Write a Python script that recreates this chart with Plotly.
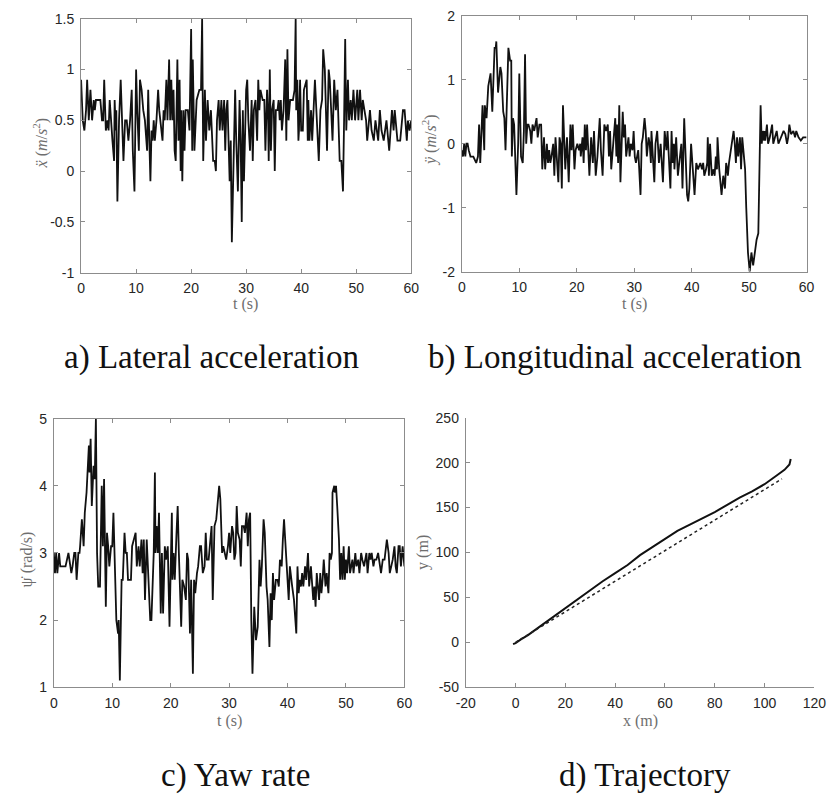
import plotly.graph_objects as go

# ---------------- data ----------------
lat_acc = [(0,0.9),(0.3,0.5),(0.6,0.4),(0.9,0.6),(1.1,0.9),(1.4,0.5),(1.7,0.8),(2.0,0.5),(2.3,0.7),(2.5,0.6),(2.7,0.7),(3.5,0.7),(3.8,0.5),(4.0,0.5),(4.2,0.9),(4.5,0.4),(4.8,0.5),(5.0,0.4),(5.2,0.7),(5.4,0.5),(5.7,0.3),(6.0,0.1),(6.1,0.7),(6.3,0.4),(6.4,0.6),(6.6,-0.3),(6.9,0.5),(7.2,0.9),(7.4,0.5),(7.7,0.1),(8.0,0.5),(8.3,0.5),(8.6,0.3),(8.9,0.5),(9.2,0.8),(9.4,0.2),(9.7,-0.2),(10.0,1.0),(10.2,0.6),(10.5,0.2),(10.7,0.9),(11.0,0.8),(11.3,0.6),(11.6,0.5),(12.0,0.2),(12.2,0.8),(12.4,0.3),(12.6,-0.1),(12.8,0.4),(13.0,0.3),(13.2,0.5),(13.4,0.3),(13.7,0.5),(14.0,0.8),(14.2,0.6),(14.4,0.5),(14.6,0.4),(14.8,0.3),(15.0,0.6),(15.2,0.5),(15.5,0.9),(15.7,0.5),(16.0,1.1),(16.2,0.5),(16.4,0.9),(16.6,0.5),(16.8,0.8),(17.0,0.2),(17.2,0.1),(17.5,1.1),(17.7,0.3),(17.9,0.9),(18.1,0.0),(18.2,0.6),(18.4,-0.1),(18.6,0.6),(18.8,0.2),(19.0,0.6),(19.4,0.6),(19.7,0.4),(20.0,1.4),(20.2,0.2),(20.3,1.1),(20.6,0.2),(21.0,0.7),(21.5,0.8),(21.8,0.8),(22.0,1.5),(22.2,0.1),(22.5,0.8),(22.7,0.3),(23.0,0.7),(23.3,0.4),(23.6,0.6),(24.0,0.1),(24.3,0.1),(24.5,0.0),(24.7,0.5),(25.0,0.7),(25.2,0.4),(25.5,0.7),(25.7,0.4),(26.0,0.7),(26.2,0.2),(26.4,0.6),(26.6,0.7),(27.0,-0.1),(27.2,0.3),(27.4,-0.7),(27.7,0.2),(28.0,0.8),(28.2,0.3),(28.5,-0.2),(28.8,0.7),(29.0,0.3),(29.2,-0.5),(29.4,0.6),(29.6,-0.1),(30.0,0.8),(30.2,0.9),(30.4,0.5),(30.7,0.2),(31.0,0.7),(31.2,0.1),(31.4,0.6),(31.7,0.7),(32.0,0.3),(32.2,0.9),(32.4,0.6),(32.6,0.8),(33.0,0.7),(33.3,0.7),(33.5,0.2),(33.8,0.8),(34.0,0.5),(34.1,0.1),(34.3,1.0),(34.5,0.2),(34.7,0.6),(35.0,0.7),(35.2,0.0),(35.4,0.6),(35.7,0.6),(35.9,0.7),(36.1,0.5),(36.3,0.7),(36.5,0.4),(36.8,0.6),(37.1,1.1),(37.3,0.3),(37.5,1.2),(37.7,0.5),(38.0,0.7),(38.5,0.7),(38.8,0.8),(39.0,1.5),(39.1,0.6),(39.3,0.9),(39.5,0.3),(39.6,0.4),(39.8,0.9),(40.0,0.4),(40.3,0.4),(40.5,0.8),(41.0,0.9),(41.2,0.3),(41.3,0.7),(41.5,0.3),(41.8,0.6),(42.0,0.3),(42.5,0.9),(42.8,0.5),(43.2,0.1),(43.5,0.6),(43.8,0.7),(44.0,1.2),(44.3,1.0),(44.7,0.2),(45.0,1.0),(45.2,0.9),(45.4,0.6),(45.7,0.3),(46.0,0.9),(46.3,0.6),(46.6,0.8),(47.0,0.1),(47.3,0.1),(47.6,-0.2),(47.8,0.5),(48.0,1.3),(48.2,0.4),(48.5,0.9),(48.7,0.5),(49.0,0.7),(49.2,0.5),(49.5,0.8),(49.8,0.5),(50.2,0.8),(50.4,0.5),(50.7,0.8),(51.0,0.5),(51.2,0.7),(51.5,0.6),(51.8,0.5),(52.0,0.3),(52.5,0.6),(52.8,0.4),(53.2,0.3),(53.5,0.5),(54.0,0.3),(54.3,0.6),(54.6,0.4),(55.0,0.3),(55.5,0.5),(56.0,0.2),(56.5,0.6),(56.8,0.4),(57.0,0.6),(57.5,0.3),(58.0,0.3),(58.5,0.6),(58.8,0.6),(59.2,0.3),(59.4,0.5),(59.7,0.4),(60.0,0.5)]

lon_acc = [(0,-0.1),(0.2,-0.2),(0.4,0.0),(0.6,-0.2),(0.8,0.0),(1.0,0.0),(1.2,-0.1),(1.5,-0.2),(2.0,-0.2),(2.5,-0.3),(2.8,-0.2),(3.0,0.3),(3.2,-0.3),(3.6,0.6),(3.9,-0.1),(4.0,0.6),(4.3,0.4),(4.6,0.9),(5.0,1.1),(5.3,0.5),(5.7,1.5),(5.9,1.5),(6.0,1.6),(6.3,0.8),(6.7,1.2),(6.9,1.1),(7.2,0.5),(7.4,0.4),(7.6,-0.1),(7.9,1.0),(8.1,1.5),(8.4,1.3),(8.6,1.3),(8.7,-0.2),(8.9,0.4),(9.1,0.3),(9.5,-0.8),(9.8,0.0),(10.0,1.1),(10.3,-0.2),(10.6,-0.3),(10.8,0.2),(11.0,1.4),(11.2,0.0),(11.4,0.3),(11.6,0.3),(11.9,0.2),(12.1,0.0),(12.3,0.3),(12.6,0.2),(12.8,0.3),(13.0,0.4),(13.2,0.1),(13.5,0.3),(13.8,0.3),(14.0,-0.4),(14.3,0.1),(14.5,-0.4),(14.8,0.0),(15.0,-0.3),(15.2,-0.1),(15.4,-0.3),(15.6,-0.2),(15.9,0.0),(16.1,-0.5),(16.3,0.1),(16.8,-0.6),(17.0,0.1),(17.2,0.0),(17.4,-0.7),(17.6,0.6),(18.0,-0.4),(18.3,0.1),(18.6,-0.6),(18.9,0.3),(19.1,-0.1),(19.3,0.3),(19.6,-0.4),(19.8,-0.1),(20.1,0.0),(20.4,-0.1),(20.6,0.0),(20.7,-0.2),(21.0,0.1),(21.2,-0.3),(21.4,0.3),(21.6,-0.1),(21.8,0.3),(22.2,-0.5),(22.5,0.1),(22.8,-0.3),(23.0,0.2),(23.3,-0.5),(23.6,-0.2),(24.0,0.4),(24.2,-0.1),(24.5,-0.5),(24.8,0.3),(25.1,0.2),(25.4,0.3),(25.6,-0.2),(25.8,0.2),(26.0,-0.4),(26.3,0.0),(26.7,0.4),(26.9,-0.2),(27.0,0.3),(27.2,-0.3),(27.4,0.6),(27.6,-0.6),(28.0,0.5),(28.2,0.1),(28.4,0.3),(28.6,-0.2),(29.0,0.1),(29.2,-0.2),(29.4,0.0),(29.7,-0.1),(29.9,0.2),(30.1,-0.2),(30.3,-0.3),(30.7,-0.1),(31.1,-0.8),(31.3,0.0),(31.5,0.1),(31.8,0.4),(32.0,0.2),(32.2,-0.2),(32.5,0.1),(32.7,0.0),(32.9,-0.3),(33.0,0.2),(33.3,-0.2),(33.5,-0.6),(33.7,0.0),(33.9,0.1),(34.0,0.2),(34.3,-0.3),(34.6,0.0),(35.0,-0.6),(35.3,0.2),(35.6,-0.1),(35.8,0.2),(36.3,-0.7),(36.5,0.2),(36.7,-0.3),(36.9,0.0),(37.0,-0.4),(37.3,0.1),(37.6,-0.5),(38.0,-0.2),(38.2,0.0),(38.4,-0.7),(38.7,0.4),(39.2,-0.8),(39.4,-0.9),(39.6,-0.7),(39.9,0.0),(40.2,-0.4),(40.5,-0.8),(40.8,-0.3),(41.1,-0.4),(41.5,-0.3),(41.8,-0.4),(42.0,-0.3),(42.2,-0.5),(42.5,-0.4),(42.7,-0.3),(42.8,0.1),(43.0,-0.5),(43.2,0.0),(43.5,-0.5),(43.8,-0.4),(44.0,-0.5),(44.2,-0.2),(44.4,-0.4),(44.5,0.1),(44.8,-0.4),(45.2,-0.8),(45.5,-0.5),(45.8,-0.7),(46.0,-0.3),(46.2,-0.4),(46.3,-0.5),(46.5,-0.3),(47.0,0.0),(47.3,0.2),(47.5,0.0),(47.7,-0.3),(47.9,0.1),(48.1,-0.2),(48.4,0.1),(48.6,-0.4),(48.8,0.1),(49.1,-0.2),(49.3,-0.4),(49.5,-1.0),(49.8,-1.7),(50.1,-2.0),(50.4,-1.7),(50.7,-1.9),(51.0,-1.7),(51.1,-1.6),(51.3,-1.5),(51.6,-1.4),(51.8,-0.5),(52.0,0.6),(52.2,0.0),(52.4,0.2),(52.6,0.05),(52.7,0.2),(52.8,0.05),(53.1,0.3),(53.3,0.0),(53.6,0.1),(54.0,0.3),(54.2,0.0),(54.5,0.1),(54.8,0.2),(55.1,0.0),(55.5,0.1),(56.0,0.2),(56.3,0.15),(56.6,0.0),(56.8,0.1),(57.0,0.3),(57.3,0.15),(57.7,0.2),(58.0,0.1),(58.2,0.2),(58.6,0.1),(59.0,0.05),(59.4,0.1),(60.0,0.1)]

yaw_rate = [(0,3.0),(0.2,2.7),(0.4,3.0),(0.6,2.7),(0.9,3.0),(1.1,2.8),(1.5,2.8),(1.8,2.8),(2.0,2.8),(2.5,3.0),(2.8,2.8),(3.0,2.7),(3.2,2.8),(3.5,3.0),(3.7,3.0),(3.9,2.6),(4.2,3.0),(4.4,3.0),(4.5,3.1),(4.8,3.5),(5.1,3.1),(5.3,3.6),(5.6,3.9),(6.0,4.6),(6.1,4.2),(6.3,4.7),(6.5,3.7),(6.8,4.3),(7.0,4.1),(7.2,5.0),(7.4,3.0),(7.6,2.5),(7.9,2.5),(8.0,3.0),(8.2,4.0),(8.4,3.1),(8.6,4.1),(8.9,2.2),(9.1,3.3),(9.3,3.1),(9.5,2.8),(9.8,3.1),(10.0,3.1),(10.2,3.6),(10.4,3.0),(10.5,2.8),(10.7,2.0),(11.0,1.8),(11.1,2.0),(11.3,1.1),(11.6,2.6),(11.8,2.6),(12.1,3.3),(12.3,3.0),(12.5,3.0),(12.7,2.6),(13.2,2.6),(13.4,3.1),(13.7,3.2),(14.0,3.3),(14.2,2.8),(14.5,3.1),(14.7,2.8),(15.0,3.2),(15.2,2.7),(15.4,3.2),(15.6,2.3),(15.9,3.2),(16.1,2.8),(16.3,2.4),(16.5,2.0),(16.7,2.0),(17.0,2.9),(17.1,3.0),(17.3,4.2),(17.4,3.0),(17.6,3.4),(17.8,3.0),(18.0,3.6),(18.1,3.0),(18.3,2.1),(18.5,3.0),(18.7,2.1),(19.0,3.1),(19.2,2.9),(19.5,3.1),(19.8,1.9),(20.2,3.6),(20.3,2.6),(20.5,3.0),(20.7,2.6),(21.0,3.3),(21.2,3.7),(21.4,3.0),(21.8,1.9),(22.0,2.6),(22.3,2.5),(22.6,2.3),(22.8,3.0),(23.0,2.9),(23.3,1.8),(23.5,2.6),(23.8,1.2),(24.0,2.6),(24.2,2.4),(24.5,2.7),(24.7,2.8),(25.0,3.1),(25.2,3.1),(25.5,2.7),(25.8,2.8),(26.0,3.3),(26.2,2.9),(26.5,2.9),(26.8,3.3),(27.0,3.4),(27.2,2.3),(27.5,3.4),(27.8,3.5),(28.0,3.7),(28.3,4.0),(28.5,3.8),(28.8,3.0),(29.0,3.1),(29.3,3.0),(29.5,2.9),(29.8,3.1),(30.0,3.3),(30.2,3.0),(30.5,3.4),(30.7,3.3),(30.9,2.9),(31.1,3.0),(31.3,3.7),(31.5,3.3),(31.8,3.2),(32.0,2.8),(32.2,3.4),(32.5,3.4),(32.7,3.3),(33.0,3.6),(33.2,3.1),(33.4,3.5),(33.6,3.6),(33.8,2.0),(34.0,1.2),(34.3,2.2),(34.6,1.7),(34.9,1.9),(35.2,2.9),(35.4,2.5),(35.6,2.8),(35.9,3.5),(36.1,3.3),(36.4,2.5),(36.6,2.3),(36.9,1.6),(37.1,2.4),(37.3,2.0),(37.5,2.7),(37.7,2.3),(38.0,2.6),(38.3,2.6),(38.5,2.5),(38.7,2.9),(39.0,2.8),(39.2,3.2),(39.4,3.5),(39.6,3.2),(39.9,2.8),(40.2,2.3),(40.4,2.8),(40.6,2.6),(40.8,2.5),(41.1,2.3),(41.5,1.8),(41.7,2.8),(41.9,2.4),(42.1,2.6),(42.3,2.5),(42.5,2.7),(42.7,2.5),(43.0,2.8),(43.2,2.6),(43.5,3.0),(43.7,2.5),(44.0,2.8),(44.2,2.6),(44.4,2.3),(44.6,2.5),(44.8,2.2),(45.0,2.7),(45.2,2.5),(45.4,2.3),(45.6,2.7),(45.8,2.4),(46.0,2.6),(46.2,2.9),(46.5,2.5),(46.7,2.7),(47.0,2.4),(47.2,3.0),(47.4,2.9),(47.6,3.0),(47.7,3.9),(48.0,4.0),(48.1,3.9),(48.3,4.0),(48.5,3.7),(48.8,3.2),(49.0,2.6),(49.2,3.0),(49.4,2.6),(49.6,3.1),(49.8,2.6),(50.0,2.9),(50.2,2.7),(50.5,3.1),(50.7,2.7),(50.9,2.8),(51.1,2.9),(51.3,2.7),(51.6,3.0),(51.8,2.8),(52.1,2.9),(52.3,2.7),(52.6,3.0),(52.8,2.9),(53.1,2.8),(53.5,3.0),(53.7,2.7),(54.0,3.0),(54.2,2.9),(54.4,3.0),(54.7,2.8),(54.9,2.9),(55.2,2.9),(55.5,3.0),(55.7,2.9),(56.0,2.7),(56.3,2.9),(56.6,2.9),(57.0,3.2),(57.3,3.0),(57.5,2.7),(57.8,2.8),(58.0,2.9),(58.3,3.1),(58.5,2.8),(58.7,2.7),(59.0,3.1),(59.2,3.1),(59.4,2.8),(59.7,3.1),(60.0,2.8)]

traj_x = [-1, 0, 2, 5, 10, 15, 20, 25, 30, 35, 40, 45, 50, 55, 60, 65, 70, 75, 80, 85, 90, 95, 100, 105, 108, 110, 110.5]
traj_y = [-2, -1, 3, 8, 18, 28, 39, 49, 58, 68, 77, 86, 97, 106, 115, 124, 131, 138, 145, 153, 161, 168, 176, 186, 192, 198, 204]
ref_x = [0, 10, 20, 40, 60, 80, 100, 107]
ref_y = [0, 17, 34, 68, 102, 136, 170, 182]

a_yticks = [-1, -0.5, 0, 0.5, 1, 1.5]
a_ytext = ["-1", "-0.5", "0", "0.5", "1", "1.5"]
b_yticks = [-2, -1, 0, 1, 2]
b_ytext = ["-2", "-1", "0", "1", "2"]
c_yticks = [1, 2, 3, 4, 5]
t_ticks = [0, 10, 20, 30, 40, 50, 60]
d_xticks = [-20, 0, 20, 40, 60, 80, 100, 120]
d_xtext = ["-20", "0", "20", "40", "60", "80", "100", "120"]
d_yticks = [-50, 0, 50, 100, 150, 200, 250]
d_ytext = ["-50", "0", "50", "100", "150", "200", "250"]

captions = ["a) Lateral acceleration", "b) Longitudinal acceleration", "c) Yaw rate", "d) Trajectory"]

# ---------------- figure ----------------
W, H = 840, 806
def px(x): return x / W
def py(y): return 1 - y / H

LINE = dict(color="#111111", width=1.8)
fig = go.Figure()
fig.add_trace(go.Scatter(x=[p[0] for p in lat_acc], y=[p[1] for p in lat_acc], mode="lines", line=LINE, xaxis="x", yaxis="y"))
fig.add_trace(go.Scatter(x=[p[0] for p in lon_acc], y=[p[1] for p in lon_acc], mode="lines", line=LINE, xaxis="x2", yaxis="y2"))
fig.add_trace(go.Scatter(x=[p[0] for p in yaw_rate], y=[p[1] for p in yaw_rate], mode="lines", line=LINE, xaxis="x3", yaxis="y3"))
fig.add_trace(go.Scatter(x=traj_x, y=traj_y, mode="lines", line=dict(color="#111111", width=2.0), xaxis="x4", yaxis="y4"))
fig.add_trace(go.Scatter(x=ref_x, y=ref_y, mode="lines", line=dict(color="#222222", width=1.5, dash="dot"), xaxis="x4", yaxis="y4"))

TICKFONT = dict(family="Liberation Sans, Arial, sans-serif", size=14, color="#262626")
AX = dict(showline=True, linecolor="#8c8c8c", linewidth=1, ticks="inside", ticklen=4,
          tickcolor="#8c8c8c", showgrid=False, zeroline=False, tickfont=TICKFONT, fixedrange=True)

def ax(domain, rng, tickvals, ticktext=None, mirror=True, anchor=None):
    d = dict(AX)
    d.update(domain=domain, range=rng, tickvals=tickvals, mirror="ticks" if mirror else False, anchor=anchor)
    if ticktext is not None:
        d["ticktext"] = ticktext
    return d

layout = dict(
    width=W, height=H, margin=dict(l=0, r=0, t=0, b=0),
    paper_bgcolor="white", plot_bgcolor="white", showlegend=False,
    xaxis=ax([px(73), px(412)], [0, 60], t_ticks, anchor="y"),
    yaxis=ax([py(270), py(11)], [-1, 1.5], a_yticks, a_ytext, anchor="x"),
    xaxis2=ax([px(464), px(818)], [0, 60], t_ticks, anchor="y2"),
    yaxis2=ax([py(269), py(8)], [-2, 2], b_yticks, b_ytext, anchor="x2"),
    xaxis3=ax([px(45), px(405)], [0, 60], t_ticks, anchor="y3"),
    yaxis3=ax([py(693), py(419)], [1, 5], c_yticks, anchor="x3"),
    xaxis4=ax([px(468), px(826)], [-20, 120], d_xticks, d_xtext, mirror=False, anchor="y4"),
    yaxis4=ax([py(693), py(418)], [-50, 250], d_yticks, d_ytext, mirror=False, anchor="x4"),
)
fig.update_layout(**layout)
for k in ["xaxis", "xaxis2", "xaxis3", "xaxis4"]:
    fig.layout[k].ticklabelstandoff = 3
for k in ["yaxis", "yaxis2", "yaxis3", "yaxis4"]:
    fig.layout[k].ticklabelstandoff = 3

LABFONT = dict(family="Liberation Serif, Times New Roman, serif", size=16, color="#6e6e6e")
CAPFONT = dict(family="Liberation Serif, Times New Roman, serif", size=33, color="#111111")

ann = []
def add(text, x, y, font, angle=0):
    ann.append(dict(text=text, x=px(x), y=py(y), xref="paper", yref="paper", showarrow=False,
                    font=font, textangle=angle, xanchor="center", yanchor="middle"))

add("t (s)", 242, 302, LABFONT)
add("t (s)", 641, 302, LABFONT)
add("t (s)", 225, 727, LABFONT)
add("x (m)", 647, 727, LABFONT)
add("<i>ẍ</i> (<i>m</i>/<i>s</i><sup>2</sup>)", 31, 138, LABFONT, -90)
add("<i>ÿ</i> (<i>m</i>/<i>s</i><sup>2</sup>)", 431, 135, LABFONT, -90)
add("ψ̇ (rad/s)", 17, 563, LABFONT, -90)
add("y (m)", 424, 555, LABFONT, -90)

add(captions[0], 207, 357, CAPFONT)
add(captions[1], 621, 357, CAPFONT)
add(captions[2], 232, 783, CAPFONT)
add(captions[3], 652, 783, CAPFONT)

fig.update_layout(annotations=ann)
fig.write_html("out.html")
